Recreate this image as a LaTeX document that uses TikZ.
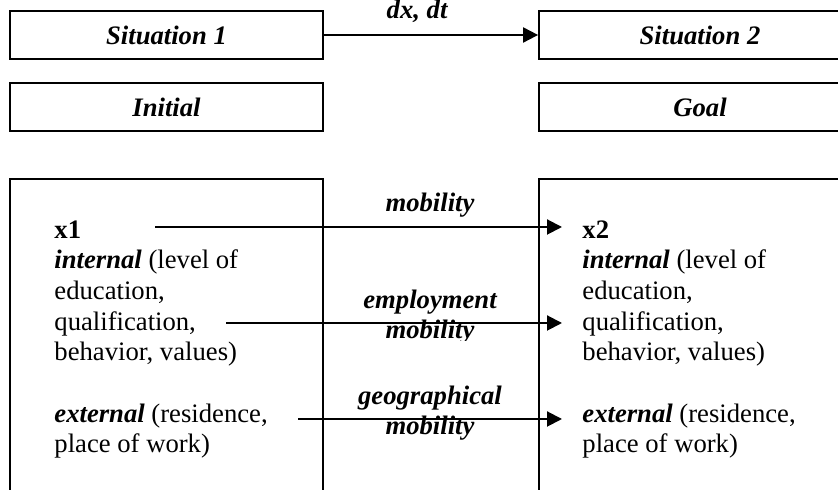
\documentclass[tikz,border=0pt]{standalone}
\usepackage{fontspec}
\setmainfont{Liberation Serif}
\usetikzlibrary{arrows.meta}

\begin{document}
\begin{tikzpicture}[x=0.45pt, y=-0.45pt]
        \tikzset{frame/.style={draw, line width=0.8pt, inner sep=0pt, font=\fontsize{12}{13.8}\selectfont\bfseries\itshape},
                 flow/.style={line width=0.9pt, -{Triangle[length=6.75pt, width=6.75pt]}},
                 state/.style={align=left, inner sep=0pt, font=\fontsize{12}{13.8}\selectfont},
                 move/.style={align=center, inner sep=0pt, font=\fontsize{12}{13.8}\selectfont\bfseries\itshape}}
        \clip (0, 0) rectangle (838, 490);
        % situations and their names
        \node[frame, minimum width=140.85pt, minimum height=21.6pt] (sit1) at (166.5, 35) {Situation 1};
        \node[frame, minimum width=144.9pt, minimum height=21.6pt] (sit2) at (700, 35) {Situation 2};
        \node[frame, minimum width=140.85pt, minimum height=21.6pt] (init) at (166.5, 107) {Initial};
        \node[frame, minimum width=144.9pt, minimum height=21.6pt] (goal) at (700, 107) {Goal};
        \draw[flow] (sit1) -- (sit2) node[move, pos=0.435, anchor=base, yshift=7.2pt] (dxdt) {dx, dt};
        % the two states, open at the bottom
        \node[frame, minimum width=140.85pt, minimum height=153.45pt] (box1) at (166.5, 349.5) {};
        \node[frame, minimum width=144.9pt, minimum height=153.45pt] (box2) at (700, 349.5) {};
        % base of a multi-line node is its last line
        \node[state, anchor=base west] (st1) at (54, 452.7) {\textbf{x1}\\
                \textbf{\textit{internal}} (level of\\
                education,\\
                qualification,\\
                behavior, values)\\[13.8pt]
                \textbf{\textit{external}} (residence,\\
                place of work)};
        \node[state, anchor=base west] (st2) at (582, 452.7) {\textbf{x2}\\
                \textbf{\textit{internal}} (level of\\
                education,\\
                qualification,\\
                behavior, values)\\[13.8pt]
                \textbf{\textit{external}} (residence,\\
                place of work)};
        % kinds of mobility
        \coordinate (m1) at (155, 227);
        \coordinate (m2) at (562, 227);
        \coordinate (e1) at (226, 323);
        \coordinate (e2) at (562, 323);
        \coordinate (g1) at (298, 419);
        \coordinate (g2) at (562, 419);
        \draw[flow] (m1) -- (m2);
        \draw[flow] (e1) -- (e2);
        \draw[flow] (g1) -- (g2);
        \node[move, anchor=base] (mob) at (430, 212) {mobility};
        \begin{scope}
                \clip (323, 280) rectangle (539, 341);
                \node[move, anchor=base] (emp) at (430, 339) {employment\\mobility};
        \end{scope}
        \node[move, anchor=base] (geo) at (430, 435) {geographical\\mobility};
\end{tikzpicture}
\end{document}
